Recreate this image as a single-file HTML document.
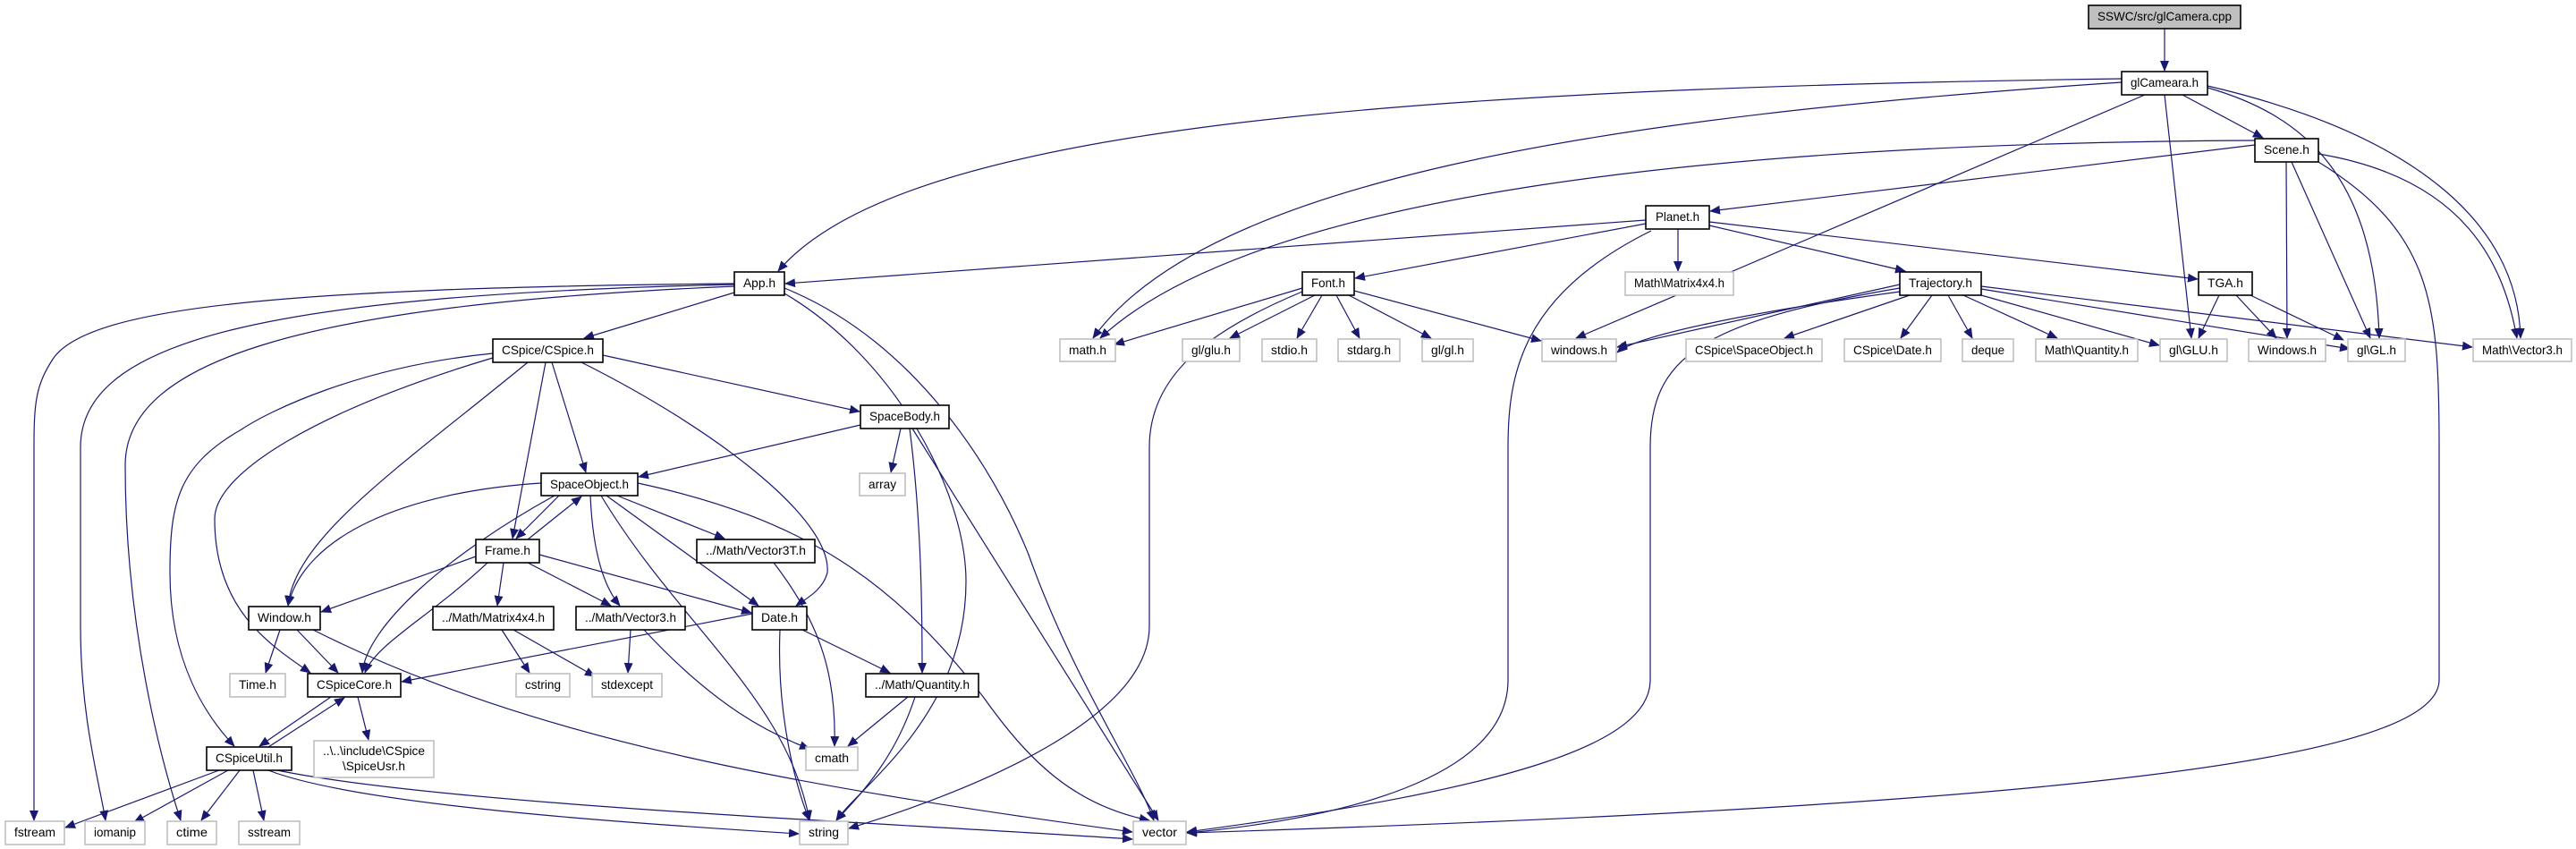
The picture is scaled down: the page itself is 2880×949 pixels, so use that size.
<!DOCTYPE html>
<html><head><meta charset="utf-8"><style>
html,body{margin:0;padding:0;background:#fff;}
svg{display:block;}
text{font-family:"Liberation Sans",sans-serif;font-size:14px;fill:#000;}
.b{fill:#fff;stroke:#000;stroke-width:1.6}
.g{fill:#fff;stroke:#bfbfbf;stroke-width:1.6}
.e{fill:none;stroke:#191970;stroke-width:1.2}
</style></head><body>
<svg width="2880" height="949" viewBox="0 0 2880 949" xmlns="http://www.w3.org/2000/svg">
<defs><marker id="a" markerUnits="userSpaceOnUse" markerWidth="12" markerHeight="10" refX="11" refY="5" orient="auto"><path d="M0,0 L12,5 L0,10 z" fill="#191970"/></marker></defs>
<g class="e" marker-end="url(#a)">
<path d="M2420,32 L2420,79"/>
<path d="M2372,88 C1500,100 1000,150 870,303"/>
<path d="M2372,92 C1800,130 1350,200 1222,378"/>
<path d="M2398,106 L1762,378"/>
<path d="M2420,106 L2450,378"/>
<path d="M2440,106 L2530,154"/>
<path d="M2468,98 C2580,130 2655,200 2660,378"/>
<path d="M2468,96 C2700,150 2815,250 2818,378"/>
<path d="M2521,162 L1912,236"/>
<path d="M2521,157 C1900,160 1400,220 1230,378"/>
<path d="M2556,181 L2557,378"/>
<path d="M2562,181 L2650,378"/>
<path d="M2592,172 C2760,200 2800,300 2814,378"/>
<path d="M2592,181 C2720,260 2727,340 2727,500 L2727,760 C2727,850 2300,900 1327,931"/>
<path d="M1840,246 L878,317"/>
<path d="M1840,250 L1515,311"/>
<path d="M1876,256 L1876,303"/>
<path d="M1911,252 L2130,303"/>
<path d="M1911,248 L2457,312"/>
<path d="M1846,258 C1700,330 1686,420 1686,500 L1686,760 C1686,870 1500,915 1327,931"/>
<path d="M2124,322 C1900,360 1845,400 1845,500 L1845,760 C1845,830 1700,880 1327,930"/>
<path d="M1456,322 L1246,385"/>
<path d="M1470,330 L1375,378"/>
<path d="M1478,330 L1450,378"/>
<path d="M1494,330 L1520,378"/>
<path d="M1508,330 L1600,378"/>
<path d="M1514,325 L1723,381"/>
<path d="M1456,326 C1350,370 1285,420 1285,500 L1285,700 C1285,800 1100,880 949,926"/>
<path d="M2124,318 L1808,388"/>
<path d="M2124,326 C1950,350 1830,375 1808,394"/>
<path d="M2135,330 L1995,378"/>
<path d="M2160,330 L2125,378"/>
<path d="M2178,330 L2205,378"/>
<path d="M2195,330 L2300,378"/>
<path d="M2215,330 L2414,386"/>
<path d="M2215,323 L2627,390"/>
<path d="M2215,320 L2764,388"/>
<path d="M2481,330 L2458,378"/>
<path d="M2500,330 L2545,378"/>
<path d="M2516,330 L2620,380"/>
<path d="M821,327 L653,378"/>
<path d="M821,317 C300,322 100,345 60,400 C40,430 38,450 38,500 L38,917"/>
<path d="M821,318 C300,330 90,380 90,500 L90,700 C90,800 110,870 118,917"/>
<path d="M821,320 C350,340 140,400 140,520 C140,700 180,850 202,917"/>
<path d="M877,328 C1000,400 1080,550 1080,650 C1080,800 960,880 935,917"/>
<path d="M877,322 C1020,380 1110,520 1150,620 C1200,760 1270,860 1290,917"/>
<path d="M674,397 L961,460"/>
<path d="M617,405 L655,528"/>
<path d="M610,405 L573,602"/>
<path d="M590,405 C450,520 330,600 322,677"/>
<path d="M551,400 C350,460 240,530 240,580 C240,680 300,720 347,752"/>
<path d="M551,395 C400,410 300,460 270,480 C200,520 190,560 190,640 C190,740 230,800 262,834"/>
<path d="M650,405 C800,480 930,580 925,640 C920,660 900,670 890,677"/>
<path d="M962,475 L714,533"/>
<path d="M1007,479 L996,528"/>
<path d="M1017,479 C1030,580 1031,680 1031,752"/>
<path d="M1020,479 L1295,917"/>
<path d="M625,554 L577,602"/>
<path d="M590,603 L650,555"/>
<path d="M605,540 C450,550 340,600 322,677"/>
<path d="M620,554 C500,620 410,700 405,752"/>
<path d="M690,554 L810,602"/>
<path d="M660,554 C662,600 670,650 693,677"/>
<path d="M678,554 L848,677"/>
<path d="M672,554 C760,700 880,780 905,917"/>
<path d="M713,540 C900,580 1000,650 1100,780 C1150,850 1200,900 1285,917"/>
<path d="M532,622 L359,684"/>
<path d="M545,629 C480,690 420,720 408,752"/>
<path d="M563,629 L556,677"/>
<path d="M590,629 L683,677"/>
<path d="M603,620 L840,685"/>
<path d="M865,629 C920,700 935,760 933,834"/>
<path d="M313,704 L297,752"/>
<path d="M332,704 L378,752"/>
<path d="M350,704 C600,830 900,880 1266,930"/>
<path d="M561,704 L592,752"/>
<path d="M574,704 L665,756"/>
<path d="M705,704 L702,752"/>
<path d="M720,704 C800,790 860,820 905,837"/>
<path d="M841,686 L449,762"/>
<path d="M897,704 L995,752"/>
<path d="M872,704 C868,800 890,880 905,917"/>
<path d="M370,779 L290,834"/>
<path d="M300,835 L385,780"/>
<path d="M400,779 L412,827"/>
<path d="M1015,779 L948,834"/>
<path d="M1023,779 C1000,850 960,890 935,917"/>
<path d="M245,861 L73,925"/>
<path d="M255,861 L150,919"/>
<path d="M268,861 L225,917"/>
<path d="M283,861 L295,917"/>
<path d="M300,861 C400,900 700,920 893,932"/>
<path d="M310,861 C500,900 1000,920 1266,938"/>
</g>
<g>
<rect x="2335" y="6" width="170" height="26" fill="#bfbfbf" stroke="#000" stroke-width="1.6"/><text x="2345" y="23" textLength="150" lengthAdjust="spacingAndGlyphs">SSWC/src/glCamera.cpp</text>
<rect class="b" x="2372" y="80" width="96" height="26"/><text x="2382" y="97" textLength="76" lengthAdjust="spacingAndGlyphs">glCameara.h</text>
<rect class="b" x="2521" y="155" width="71" height="26"/><text x="2531" y="172" textLength="51" lengthAdjust="spacingAndGlyphs">Scene.h</text>
<rect class="b" x="1840" y="230" width="71" height="26"/><text x="1851" y="247" textLength="49" lengthAdjust="spacingAndGlyphs">Planet.h</text>
<rect class="b" x="821" y="304" width="56" height="26"/><text x="831" y="321" textLength="36" lengthAdjust="spacingAndGlyphs">App.h</text>
<rect class="b" x="1456" y="304" width="58" height="26"/><text x="1466" y="321" textLength="38" lengthAdjust="spacingAndGlyphs">Font.h</text>
<rect class="g" x="1817" y="304" width="121" height="26"/><text x="1827" y="321" textLength="101" lengthAdjust="spacingAndGlyphs">Math\Matrix4x4.h</text>
<rect class="b" x="2124" y="304" width="91" height="26"/><text x="2134" y="321" textLength="71" lengthAdjust="spacingAndGlyphs">Trajectory.h</text>
<rect class="b" x="2458" y="304" width="60" height="26"/><text x="2468" y="321" textLength="40" lengthAdjust="spacingAndGlyphs">TGA.h</text>
<rect class="g" x="1185" y="379" width="62" height="25"/><text x="1195" y="396" textLength="42" lengthAdjust="spacingAndGlyphs">math.h</text>
<rect class="g" x="1322" y="379" width="64" height="25"/><text x="1332" y="396" textLength="44" lengthAdjust="spacingAndGlyphs">gl/glu.h</text>
<rect class="g" x="1411" y="379" width="61" height="25"/><text x="1421" y="396" textLength="41" lengthAdjust="spacingAndGlyphs">stdio.h</text>
<rect class="g" x="1496" y="379" width="69" height="25"/><text x="1506" y="396" textLength="49" lengthAdjust="spacingAndGlyphs">stdarg.h</text>
<rect class="g" x="1590" y="379" width="57" height="25"/><text x="1600" y="396" textLength="37" lengthAdjust="spacingAndGlyphs">gl/gl.h</text>
<rect class="g" x="1724" y="379" width="83" height="25"/><text x="1734" y="396" textLength="63" lengthAdjust="spacingAndGlyphs">windows.h</text>
<rect class="g" x="1885" y="379" width="152" height="25"/><text x="1895" y="396" textLength="132" lengthAdjust="spacingAndGlyphs">CSpice\SpaceObject.h</text>
<rect class="g" x="2062" y="379" width="108" height="25"/><text x="2072" y="396" textLength="88" lengthAdjust="spacingAndGlyphs">CSpice\Date.h</text>
<rect class="g" x="2194" y="379" width="57" height="25"/><text x="2204" y="396" textLength="37" lengthAdjust="spacingAndGlyphs">deque</text>
<rect class="g" x="2276" y="379" width="114" height="25"/><text x="2286" y="396" textLength="94" lengthAdjust="spacingAndGlyphs">Math\Quantity.h</text>
<rect class="g" x="2415" y="379" width="75" height="25"/><text x="2425" y="396" textLength="55" lengthAdjust="spacingAndGlyphs">gl\GLU.h</text>
<rect class="g" x="2514" y="379" width="86" height="25"/><text x="2524" y="396" textLength="66" lengthAdjust="spacingAndGlyphs">Windows.h</text>
<rect class="g" x="2625" y="379" width="64" height="25"/><text x="2635" y="396" textLength="44" lengthAdjust="spacingAndGlyphs">gl\GL.h</text>
<rect class="g" x="2765" y="379" width="110" height="25"/><text x="2775" y="396" textLength="90" lengthAdjust="spacingAndGlyphs">Math\Vector3.h</text>
<rect class="b" x="551" y="379" width="123" height="26"/><text x="561" y="396" textLength="103" lengthAdjust="spacingAndGlyphs">CSpice/CSpice.h</text>
<rect class="b" x="962" y="453" width="99" height="26"/><text x="972" y="470" textLength="79" lengthAdjust="spacingAndGlyphs">SpaceBody.h</text>
<rect class="g" x="961" y="529" width="51" height="25"/><text x="971" y="546" textLength="31" lengthAdjust="spacingAndGlyphs">array</text>
<rect class="b" x="605" y="529" width="108" height="25"/><text x="615" y="546" textLength="88" lengthAdjust="spacingAndGlyphs">SpaceObject.h</text>
<rect class="b" x="532" y="603" width="71" height="26"/><text x="542" y="620" textLength="51" lengthAdjust="spacingAndGlyphs">Frame.h</text>
<rect class="b" x="779" y="603" width="132" height="26"/><text x="789" y="620" textLength="112" lengthAdjust="spacingAndGlyphs">../Math/Vector3T.h</text>
<rect class="b" x="278" y="678" width="80" height="26"/><text x="288" y="695" textLength="60" lengthAdjust="spacingAndGlyphs">Window.h</text>
<rect class="b" x="484" y="678" width="135" height="26"/><text x="494" y="695" textLength="115" lengthAdjust="spacingAndGlyphs">../Math/Matrix4x4.h</text>
<rect class="b" x="644" y="678" width="122" height="26"/><text x="654" y="695" textLength="102" lengthAdjust="spacingAndGlyphs">../Math/Vector3.h</text>
<rect class="b" x="841" y="678" width="61" height="26"/><text x="851" y="695" textLength="41" lengthAdjust="spacingAndGlyphs">Date.h</text>
<rect class="g" x="257" y="753" width="62" height="26"/><text x="267" y="770" textLength="42" lengthAdjust="spacingAndGlyphs">Time.h</text>
<rect class="b" x="344" y="753" width="104" height="26"/><text x="354" y="770" textLength="84" lengthAdjust="spacingAndGlyphs">CSpiceCore.h</text>
<rect class="g" x="577" y="753" width="60" height="26"/><text x="587" y="770" textLength="40" lengthAdjust="spacingAndGlyphs">cstring</text>
<rect class="g" x="662" y="753" width="78" height="26"/><text x="672" y="770" textLength="58" lengthAdjust="spacingAndGlyphs">stdexcept</text>
<rect class="b" x="968" y="753" width="126" height="26"/><text x="978" y="770" textLength="106" lengthAdjust="spacingAndGlyphs">../Math/Quantity.h</text>
<rect class="b" x="231" y="835" width="95" height="26"/><text x="241" y="852" textLength="75" lengthAdjust="spacingAndGlyphs">CSpiceUtil.h</text>
<rect class="g" x="351" y="828" width="134" height="41"/><text x="361" y="844" textLength="114" lengthAdjust="spacingAndGlyphs">..\..\include\CSpice</text><text x="383" y="861" textLength="70" lengthAdjust="spacingAndGlyphs">\SpiceUsr.h</text>
<rect class="g" x="901" y="835" width="58" height="26"/><text x="911" y="852" textLength="38" lengthAdjust="spacingAndGlyphs">cmath</text>
<rect class="g" x="6" y="918" width="66" height="26"/><text x="16" y="935" textLength="46" lengthAdjust="spacingAndGlyphs">fstream</text>
<rect class="g" x="95" y="918" width="67" height="26"/><text x="105" y="935" textLength="47" lengthAdjust="spacingAndGlyphs">iomanip</text>
<rect class="g" x="187" y="918" width="55" height="26"/><text x="197" y="935" textLength="35" lengthAdjust="spacingAndGlyphs">ctime</text>
<rect class="g" x="267" y="918" width="68" height="26"/><text x="277" y="935" textLength="48" lengthAdjust="spacingAndGlyphs">sstream</text>
<rect class="g" x="894" y="918" width="54" height="26"/><text x="904" y="935" textLength="34" lengthAdjust="spacingAndGlyphs">string</text>
<rect class="g" x="1267" y="918" width="59" height="26"/><text x="1277" y="935" textLength="39" lengthAdjust="spacingAndGlyphs">vector</text>
</g>
</svg>
</body></html>
